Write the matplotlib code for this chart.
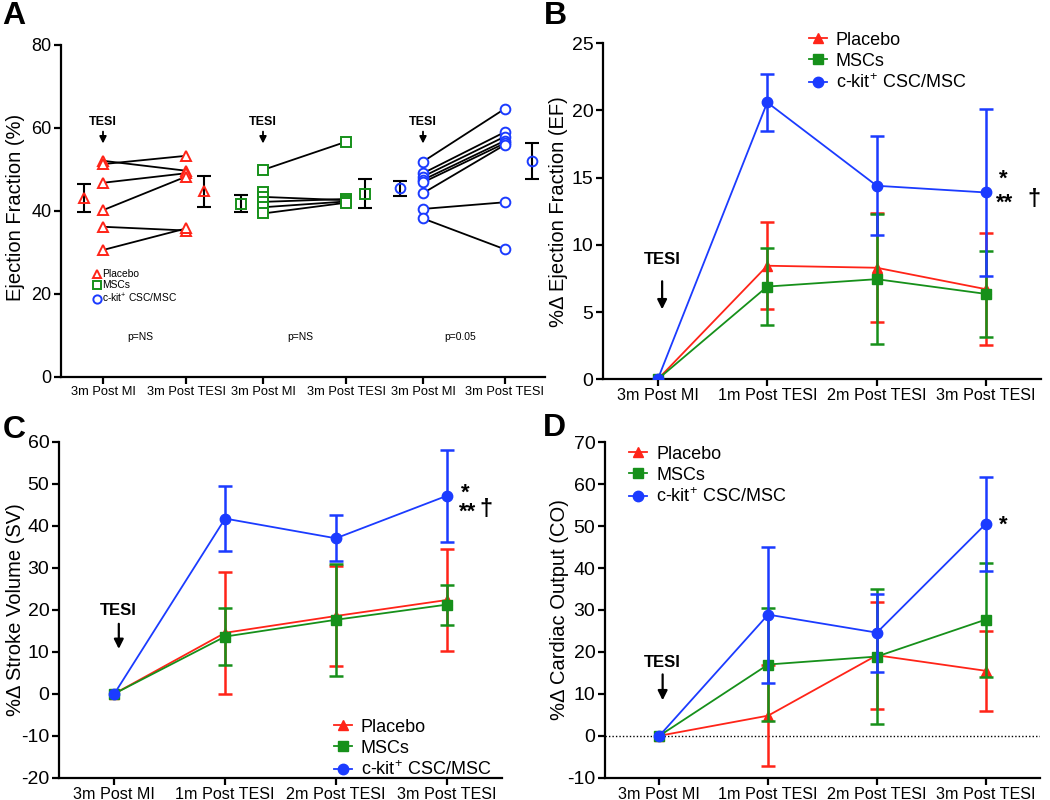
import numpy as np
import matplotlib
matplotlib.use("Agg")
import matplotlib.pyplot as plt
from matplotlib.lines import Line2D

plt.rcParams['font.family'] = ['Liberation Sans', 'DejaVu Sans']
plt.rcParams['mathtext.fontset'] = 'custom'
plt.rcParams['mathtext.rm'] = 'Liberation Sans'
plt.rcParams['mathtext.it'] = 'Liberation Sans:italic'
plt.rcParams['mathtext.bf'] = 'Liberation Sans:bold'
plt.rcParams['axes.unicode_minus'] = False

# ---------------- data ----------------
groups = ["Placebo", "MSCs", "c-kit$^{+}$ CSC/MSC"]
a_ticklabels = ["3m Post MI", "3m Post TESI"] * 3

# Panel A: individual ejection fraction (%) values, pre (3m post MI) and post (3m post TESI)
placebo_pre = [52.1, 51.3, 46.8, 40.2, 36.2, 30.6]
placebo_post = [49.7, 53.3, 49.1, 48.3, 35.3, 35.8]
msc_pre = [49.9, 44.6, 43.4, 42.2, 40.9, 39.4]
msc_post = [56.7, np.nan, 42.6, 42.9, 42.3, 42.0]
ckit_pre = [51.9, 49.1, 48.3, 47.5, 46.9, 44.3, 40.5, 38.2]
ckit_post = [64.6, 59.0, 57.9, 56.9, 56.3, 55.9, 42.1, 30.8]
a_pre_mean = [43.1, 41.8, 45.5]
a_pre_err = [3.3, 2.0, 1.8]
a_post_mean = [44.7, 44.2, 52.1]
a_post_err = [3.7, 3.4, 4.4]
a_pvalues = ["p=NS", "p=NS", "p=0.05"]

timepoints = ["3m Post MI", "1m Post TESI", "2m Post TESI", "3m Post TESI"]

# Panel B: % change in ejection fraction
ef_placebo = [0, 8.45, 8.3, 6.7]
ef_placebo_err = [0, 3.25, 4.05, 4.15]
ef_msc = [0, 6.9, 7.45, 6.35]
ef_msc_err = [0, 2.85, 4.85, 3.2]
ef_ckit = [0, 20.6, 14.4, 13.9]
ef_ckit_err = [0, 2.1, 3.7, 6.2]

# Panel C: % change in stroke volume
sv_placebo = [0, 14.5, 18.5, 22.3]
sv_placebo_err = [0, 14.5, 11.9, 12.1]
sv_msc = [0, 13.6, 17.6, 21.2]
sv_msc_err = [0, 6.7, 13.4, 4.75]
sv_ckit = [0, 41.7, 37.0, 47.1]
sv_ckit_err = [0, 7.8, 5.5, 11.0]

# Panel D: % change in cardiac output
co_placebo = [0, 4.8, 19.2, 15.5]
co_placebo_err = [0, 12.1, 12.8, 9.5]
co_msc = [0, 17.0, 18.9, 27.7]
co_msc_err = [0, 13.4, 16.2, 13.6]
co_ckit = [0, 28.9, 24.6, 50.5]
co_ckit_err = [0, 16.2, 9.3, 11.3]

# ---------------- style ----------------
RED = '#FF2418'
GREEN = '#16901A'
BLUE = '#1B3BFF'
colors = [RED, GREEN, BLUE]
markers = ['^', 's', 'o']
msizes = [6.5, 6.5, 7.5]

fig = plt.figure(figsize=(10.5, 8), dpi=100)


def style_axes(ax, xfs, yfs):
    for s in ['top', 'right']:
        ax.spines[s].set_visible(False)
    for s in ['left', 'bottom']:
        ax.spines[s].set_linewidth(1.6)
    ax.tick_params(direction='out', length=5, width=1.6, colors='black')
    ax.tick_params(axis='x', labelsize=xfs, pad=1.5)
    ax.tick_params(axis='y', labelsize=yfs, pad=2)


# ---------------- Panel A ----------------
axA = fig.add_axes([61/1050, 1-377/800, 484/1050, 332/800])
pre_x = [1.0, 3.0, 5.0]
post_x = [2.04, 4.04, 6.02]
pre_mean_x = [0.76, 2.73, 4.71]
post_mean_x = [2.26, 4.28, 6.36]
a_pre = [placebo_pre, msc_pre, ckit_pre]
a_post = [placebo_post, msc_post, ckit_post]
a_ms = [7.5, 6.5, 7.0]
for g in range(3):
    pre = np.array(a_pre[g], dtype=float)
    post = np.array(a_post[g], dtype=float)
    for p0, p1 in zip(pre, post):
        if not np.isnan(p1):
            axA.plot([pre_x[g], post_x[g]], [p0, p1], color='black', lw=1.3, zorder=2)
    axA.plot([pre_x[g]] * len(pre), pre, ls='none', marker=markers[g], ms=a_ms[g],
             mfc='white', mec=colors[g], mew=1.4, zorder=3)
    axA.plot([post_x[g]] * len(post), post, ls='none', marker=markers[g], ms=a_ms[g],
             mfc='white', mec=colors[g], mew=1.4, zorder=3)
    axA.errorbar([pre_mean_x[g]], [a_pre_mean[g]], yerr=[a_pre_err[g]], fmt='none',
                 ecolor='black', elinewidth=1.5, capsize=5, capthick=1.5, zorder=2)
    axA.errorbar([post_mean_x[g]], [a_post_mean[g]], yerr=[a_post_err[g]], fmt='none',
                 ecolor='black', elinewidth=1.5, capsize=5, capthick=1.5, zorder=2)
    axA.plot([pre_mean_x[g]], [a_pre_mean[g]], ls='none', marker=markers[g], ms=a_ms[g],
             mfc='none', mec=colors[g], mew=1.4, zorder=3)
    axA.plot([post_mean_x[g]], [a_post_mean[g]], ls='none', marker=markers[g], ms=a_ms[g],
             mfc='none', mec=colors[g], mew=1.4, zorder=3)
    # TESI annotation
    axA.text(pre_x[g], 61.4, "TESI", ha='center', va='center', fontsize=9, fontweight='bold')
    axA.annotate('', xy=(pre_x[g], 55.6), xytext=(pre_x[g], 59.8),
                 arrowprops=dict(arrowstyle='-|>', color='black', lw=1.3, mutation_scale=10))
    axA.text((pre_x[g] + post_x[g]) / 2 - 0.05, 9.6, a_pvalues[g], ha='center', va='center',
             fontsize=7.4)

axA.set_xlim(0.475, 6.525)
axA.set_ylim(0, 80)
axA.set_yticks([0, 20, 40, 60, 80])
axA.set_xticks([pre_x[0], post_x[0], pre_x[1], post_x[1], pre_x[2], post_x[2]])
axA.set_xticklabels(a_ticklabels)
style_axes(axA, 9.3, 13)
axA.set_ylabel("Ejection Fraction (%)", fontsize=14.5)
axA.yaxis.set_label_coords(-0.074, 0.51)
legA_handles = [Line2D([], [], ls='none', marker=markers[g], ms=a_ms[g] * 0.85, mfc='white',
                       mec=colors[g], mew=1.4) for g in range(3)]
axA.legend(legA_handles, groups, loc='upper left', bbox_to_anchor=(0.065, 0.325),
           frameon=False, fontsize=7.4, handlelength=0.8, handletextpad=0.15,
           labelspacing=0.12, borderpad=0, borderaxespad=0)


# ---------------- Panels B, C, D ----------------
def line_panel(rect, data, errs, ylim, yticks, ylabel, label_x):
    ax = fig.add_axes(rect)
    x = np.arange(len(timepoints))
    handles = []
    for g in range(3):
        y = np.array(data[g], dtype=float)
        e = np.array(errs[g], dtype=float)
        ax.errorbar(x[1:], y[1:], yerr=e[1:], fmt='none', ecolor=colors[g], elinewidth=1.8,
                    capsize=5, capthick=1.8, zorder=2 + g)
        h, = ax.plot(x, y, color=colors[g], lw=1.3, marker=markers[g], ms=msizes[g],
                     mec=colors[g], mfc=colors[g], zorder=2.5 + g)
        handles.append(h)
    ax.set_xlim(-0.5, 3.5)
    ax.set_ylim(*ylim)
    ax.set_yticks(yticks)
    ax.set_xticks(x)
    ax.set_xticklabels(timepoints)
    style_axes(ax, 11.6, 14)
    ax.set_ylabel(ylabel, fontsize=14.5)
    ax.yaxis.set_label_coords(label_x, 0.5)
    return ax, handles


def add_legend(ax, handles, **kw):
    ax.legend(handles, groups, frameon=False, fontsize=13, handlelength=1.0,
              handletextpad=0.5, labelspacing=0.22, borderpad=0, borderaxespad=0, **kw)


axB, hB = line_panel([603/1050, 1-379.3/800, 438/1050, 336/800],
                     [ef_placebo, ef_msc, ef_ckit], [ef_placebo_err, ef_msc_err, ef_ckit_err],
                     (0, 25), [0, 5, 10, 15, 20, 25], "%Δ Ejection Fraction (EF)", -0.08)
axB.text(0.04, 8.9, "TESI", ha='center', va='center', fontsize=12, fontweight='bold')
axB.annotate('', xy=(0.04, 5.0), xytext=(0.04, 7.5),
             arrowprops=dict(arrowstyle='-|>', color='black', lw=1.6, mutation_scale=14))
axB.text(3.16, 14.9, "*", ha='center', va='center', fontsize=16, fontweight='bold')
axB.text(3.17, 13.1, "**", ha='center', va='center', fontsize=16, fontweight='bold')
axB.text(3.44, 13.4, "†", ha='center', va='center', fontsize=17, fontweight='bold')
add_legend(axB, hB, loc='upper left', bbox_to_anchor=(0.47, 1.035))

axC, hC = line_panel([59/1050, 1-777.7/800, 443/1050, 336/800],
                     [sv_placebo, sv_msc, sv_ckit], [sv_placebo_err, sv_msc_err, sv_ckit_err],
                     (-20, 60), list(range(-20, 61, 10)), "%Δ Stroke Volume (SV)", -0.077)
axC.text(0.04, 19.7, "TESI", ha='center', va='center', fontsize=12, fontweight='bold')
axC.annotate('', xy=(0.04, 10.0), xytext=(0.04, 17.3),
             arrowprops=dict(arrowstyle='-|>', color='black', lw=1.6, mutation_scale=14))
axC.text(3.17, 47.8, "*", ha='center', va='center', fontsize=16, fontweight='bold')
axC.text(3.19, 43.2, "**", ha='center', va='center', fontsize=16, fontweight='bold')
axC.text(3.36, 43.8, "†", ha='center', va='center', fontsize=17, fontweight='bold')
add_legend(axC, hC, loc='lower left', bbox_to_anchor=(0.62, -0.005))

axD, hD = line_panel([605/1050, 1-777.7/800, 435/1050, 335.4/800],
                     [co_placebo, co_msc, co_ckit], [co_placebo_err, co_msc_err, co_ckit_err],
                     (-10, 70), list(range(-10, 71, 10)), "%Δ Cardiac Output (CO)", -0.083)
axD.axhline(0, color='black', lw=1.0, ls=(0, (1, 1.5)), zorder=1)
axD.text(0.03, 17.5, "TESI", ha='center', va='center', fontsize=12, fontweight='bold')
axD.annotate('', xy=(0.03, 7.8), xytext=(0.03, 15.3),
             arrowprops=dict(arrowstyle='-|>', color='black', lw=1.6, mutation_scale=14))
axD.text(3.16, 50.2, "*", ha='center', va='center', fontsize=16, fontweight='bold')
add_legend(axD, hD, loc='upper left', bbox_to_anchor=(0.055, 0.99))

# panel letters
for lab, (px, py) in {"A": (14, 16), "B": (555, 16), "C": (14, 430), "D": (554, 428)}.items():
    fig.text(px / 1050, 1 - py / 800, lab, fontsize=23, fontweight='bold', ha='center', va='center')

fig.savefig("out.png", dpi=100)
